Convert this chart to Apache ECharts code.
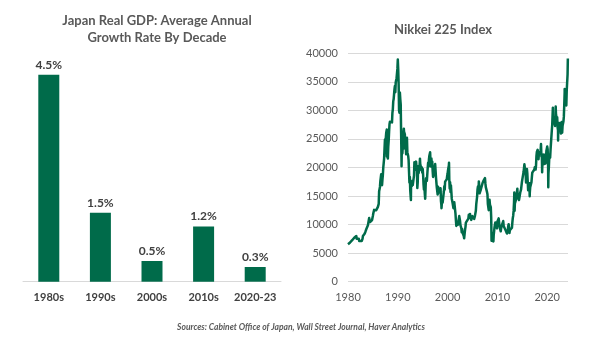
<!DOCTYPE html>
<html><head><meta charset="utf-8">
<script src="https://cdn.jsdelivr.net/npm/echarts@6/dist/echarts.min.js"></script>
<style>html,body{margin:0;padding:0;background:#fff}#c{width:600px;height:342px}</style>
</head><body><div id="c"></div>
<script>
// Left chart: Japan real GDP average annual growth by decade (%)
var decades = ['1980s', '1990s', '2000s', '2010s', '2020-23'];
var gdpGrowth = [4.5, 1.5, 0.45, 1.2, 0.32];
var gdpLabels = ['4.5%', '1.5%', '0.5%', '1.2%', '0.3%'];

// Right chart: Nikkei 225 monthly closes, Jan 1980 onward
var nikkeiStartYear = 1980;
var nikkeiMonthly = [
 6630,6760,6470,6620,6860,6810,6960,7160,7100,7270,7410,7120,
 7460,7520,7710,7610,7780,7770,7880,8000,7530,7720,7600,7680,
 7780,7510,7130,7350,7400,7200,7080,7090,7120,7100,7500,8020,
 8000,8090,8260,8400,8450,8760,9010,9180,9270,9370,9510,9890,
 10160,10200,11160,11200,10440,10140,10180,10660,10500,10800,11100,11540,
 11990,12220,12580,12420,12700,12880,12300,12500,12700,12800,12800,13110,
 13020,13640,15860,15830,16600,17650,17500,18820,17850,16910,17850,18700,
 20000,20770,21570,23270,24900,24180,24490,26030,26010,22770,23100,21560,
 23620,24700,26260,27600,28000,27760,28200,27800,27900,27900,29580,30160,
 31580,31990,32840,33710,34270,33180,34950,34900,35640,35550,37270,38916,
 37190,34590,29980,29580,33130,31940,31040,25980,20980,25190,22450,23850,
 23290,26410,26290,26110,25790,23290,23900,22340,23920,25220,22690,22980,
 22020,21340,19350,17390,18350,15950,15910,17550,17400,16770,17680,16920,
 17020,16950,18590,20920,20550,19590,20380,21030,20100,19700,16400,17420,
 20230,19000,19110,19730,20970,20640,20450,20630,19560,19990,19080,19720,
 18650,17050,16140,16800,15440,14520,16680,18110,17910,17650,18740,19870,
 20810,20130,21410,22040,21960,22530,20690,20170,21560,20470,21020,19360,
 18330,18560,18000,19150,20070,20600,20330,18230,17890,16460,16640,15260,
 16630,16830,16530,15640,15670,15830,16380,14110,13410,13560,14880,13840,
 14500,14370,15840,16700,16110,17530,17860,17440,17600,17940,18560,18930,
 19540,19960,20340,17970,16330,17410,15730,16860,15750,14540,14650,13790,
 13840,12880,12990,13930,13260,12970,11860,10710,9770,10370,10700,10540,
 9990,10590,11030,11490,11760,10620,9880,9620,9380,8640,9220,8580,
 8340,8360,7970,7830,8420,9080,9560,10340,10220,10560,10100,10680,
 10780,11040,11720,11760,11240,11860,11330,11080,10820,10770,10900,11490,
 11390,11740,11670,11010,11280,11580,11900,12410,13570,13610,14870,16110,
 16650,16210,17060,16910,15470,15510,15460,16140,16130,16400,16270,17230,
 17380,17600,17290,17400,17880,18140,17250,16570,16790,16740,15680,15310,
 13590,13600,12530,13850,14340,13480,13380,13070,11260,8580,8510,8860,
 7990,7570,8110,8830,9520,9960,10360,10490,10130,10030,9350,10550,
 10200,10130,11090,11060,9770,9380,9540,8820,9370,9200,9940,10230,
 10240,10620,9760,9850,9690,9820,9830,8960,8700,8990,8430,8460,
 8800,9720,10080,9520,8540,9010,8700,8840,8870,8930,9450,10400,
 11140,11560,12400,13860,13770,13680,13670,13390,14460,14330,15660,16290,
 14910,14840,14830,14300,14630,15160,15620,15420,16170,16410,17460,17450,
 17670,18800,19210,19520,20560,20240,20590,18890,17390,19080,19750,19030,
 17520,16030,16760,16670,17230,15580,16570,16890,16450,17430,18310,19110,
 19040,19120,18910,19200,19650,20030,19930,19650,20360,22010,22720,22760,
 23100,22070,21450,22470,22200,22300,22550,22870,24120,21920,22350,20010,
 20770,21390,21210,22260,20600,21280,21520,20700,21760,22930,23290,23660,
 23210,21140,18920,20190,21880,22290,21710,23140,23190,22980,26430,27440,
 27660,28970,29180,28810,28860,28790,27280,28090,29450,28890,27820,28790,
 27000,26530,27820,26850,27280,26390,27800,28090,25940,27590,27970,26090,
 27330,27450,28040,28860,30890,33190,33170,32620,31860,30860,33490,33460,
 36290,39170
];
// intra-month extremes [decimal year, value]
var nikkeiExtremes = [
 [1980.0,6560],[1987.79,26646],[1987.80,21910],[1990.75,20222],[1991.21,26800],
 [1992.63,14309],[1993.67,21148],[1994.45,21552],[1995.50,14485],[1996.49,22666],
 [1998.77,12880],[2000.28,20833],[2003.32,7607],[2006.27,17563],[2007.52,18262],
 [2008.82,7163],[2009.19,7055],[2013.39,15627],[2013.45,12445],[2015.48,20868],
 [2016.48,14952],[2018.75,24270],[2018.98,19155],[2020.21,16552],[2021.13,30467],
 [2021.70,30670],[2022.18,24717],[2023.50,33753],[2024.14,39098]
];
var nikkeiYTicks = [0, 40000, 5000];
var nikkeiXRange = [1980, 2024.17, 10];

var nikkeiData = nikkeiMonthly.map(function (v, i) {
  return [nikkeiStartYear + (i + 1) / 12, v];
}).concat(nikkeiExtremes).sort(function (a, b) { return a[0] - b[0]; });

var green = '#006B4A';
var font = 'Lato, "Open Sans", sans-serif';

var chart = echarts.init(document.getElementById('c'), null, {renderer: 'canvas'});
chart.setOption({
  animation: false,
  backgroundColor: '#fff',
  textStyle: {fontFamily: font},
  title: [
    {text: 'Japan Real GDP: Average Annual\nGrowth Rate By Decade', left: 152, top: 7, textAlign: 'center',
     textStyle: {fontFamily: font, fontSize: 13, fontWeight: 'bold', color: '#595959', lineHeight: 17}},
    {text: 'Nikkei 225 Index', left: 438, top: 18, textAlign: 'center',
     textStyle: {fontFamily: font, fontSize: 13, fontWeight: 'bold', color: '#595959'}},
    {text: 'Sources: Cabinet Office of Japan, Wall Street Journal, Haver Analytics', left: 296, top: 318, textAlign: 'center',
     textStyle: {fontFamily: font, fontSize: 8.5, fontWeight: 'bold', fontStyle: 'italic', color: '#595959'}}
  ],
  grid: [
    {left: 23, right: 319, top: 51.7, bottom: 60.3},
    {left: 348, right: 32, top: 53.3, bottom: 60.3}
  ],
  xAxis: [
    {gridIndex: 0, type: 'category', data: decades,
     axisLine: {lineStyle: {color: '#d9d9d9', width: 1}}, axisTick: {show: false},
     axisLabel: {interval: 0, margin: 10, fontFamily: font, fontSize: 11, fontWeight: 'bold', color: '#404040'}},
    {gridIndex: 1, type: 'value', min: nikkeiXRange[0], max: nikkeiXRange[1], interval: nikkeiXRange[2],
     axisLine: {show: false}, axisTick: {show: false}, splitLine: {show: false},
     axisLabel: {margin: 10, fontFamily: font, fontSize: 11, color: '#595959',
       formatter: function (v) { return String(Math.round(v)); }}}
  ],
  yAxis: [
    {gridIndex: 0, type: 'value', min: 0, max: 5, show: false},
    {gridIndex: 1, type: 'value', min: nikkeiYTicks[0], max: nikkeiYTicks[1], interval: nikkeiYTicks[2],
     axisLine: {show: false}, axisTick: {show: false},
     splitLine: {lineStyle: {color: '#d9d9d9', width: 1}},
     axisLabel: {margin: 10, fontFamily: font, fontSize: 11, color: '#595959',
       formatter: function (v) { return String(v); }}}
  ],
  series: [
    {type: 'bar', xAxisIndex: 0, yAxisIndex: 0, data: gdpGrowth, barWidth: 21,
     itemStyle: {color: green},
     label: {show: true, position: 'top', distance: 4, fontFamily: font, fontSize: 12, fontWeight: 'bold', color: '#404040',
       formatter: function (p) { return gdpLabels[p.dataIndex]; }}},
    {type: 'line', xAxisIndex: 1, yAxisIndex: 1, data: nikkeiData, showSymbol: false, symbol: 'none',
     lineStyle: {color: green, width: 2.5, join: 'round'}, itemStyle: {color: green}}
  ]
});
</script></body></html>
